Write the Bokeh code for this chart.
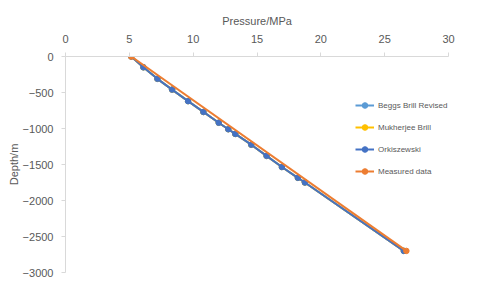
from bokeh.plotting import figure
from bokeh.models import Range1d, Legend, LegendItem, SingleIntervalTicker
from bokeh.embed import file_html
from bokeh.resources import INLINE

# Data (Pressure in MPa, Depth in m)
orki_p = [5.15, 6.1, 7.2, 8.35, 9.6, 10.8, 12.0, 12.75, 13.3, 14.55, 15.75, 16.95, 18.2, 18.75, 26.5]
orki_d = [0, -150, -310, -460, -620, -770, -920, -1010, -1075, -1225, -1380, -1535, -1685, -1750, -2700]
beggs_p = [5.15, 6.1, 7.2, 8.35, 9.6, 10.8, 12.0, 12.75, 13.3, 14.55, 15.75, 16.95, 18.2, 18.75, 26.5]
beggs_d = [0, -150, -310, -460, -620, -770, -920, -1010, -1075, -1225, -1380, -1535, -1685, -1750, -2700]
mukh_p = [5.15, 6.1, 7.2, 8.35, 9.6, 10.8, 12.0, 12.75, 13.3, 14.55, 15.75, 16.95, 18.2, 18.75, 26.5]
mukh_d = [0, -150, -310, -460, -620, -770, -920, -1010, -1075, -1225, -1380, -1535, -1685, -1750, -2700]
meas_p = [5.15, 26.7]
meas_d = [0, -2700]

series = [
    ("Beggs Brill Revised", beggs_p, beggs_d, "#5B9BD5"),
    ("Mukherjee Brill", mukh_p, mukh_d, "#FFC000"),
    ("Orkiszewski", orki_p, orki_d, "#4472C4"),
    ("Measured data", meas_p, meas_d, "#ED7D31"),
]

FONT = "Liberation Sans"
GRAY = "#595959"
AXIS = "#D9D9D9"

p = figure(frame_width=383, frame_height=216, output_backend="svg", toolbar_location=None,
           x_axis_location="above", min_border_left=65, min_border_right=24,
           min_border_top=56, min_border_bottom=13)
p.x_range = Range1d(0, 30)
p.y_range = Range1d(-3000, 0)
p.outline_line_color = None
p.xgrid.visible = False
p.ygrid.visible = False

p.xaxis.ticker = SingleIntervalTicker(interval=5)
p.yaxis.ticker = SingleIntervalTicker(interval=500)
p.xaxis.axis_label = "Pressure/MPa"
p.yaxis.axis_label = "Depth/m"
for ax in (p.xaxis, p.yaxis):
    ax.axis_line_color = AXIS
    ax.major_tick_line_color = AXIS
    ax.major_tick_out = 4
    ax.major_tick_in = 0
    ax.minor_tick_line_color = None
    ax.major_label_text_color = GRAY
    ax.major_label_text_font = FONT
    ax.major_label_text_font_size = "11px"
    ax.axis_label_text_color = GRAY
    ax.axis_label_text_font = FONT
    ax.axis_label_text_font_size = "11px"
    ax.axis_label_text_font_style = "normal"
p.xaxis.major_label_standoff = 10
p.xaxis.axis_label_standoff = 5
p.yaxis.major_label_standoff = 8
p.yaxis.axis_label_standoff = 0

items = []
for name, xs, ys, col in series:
    l = p.line(xs, ys, line_color=col, line_width=2)
    s = p.scatter(xs, ys, size=5.5, fill_color=col, line_color=col)
    items.append(LegendItem(label=name, renderers=[l, s]))

legend = Legend(items=items, location=(290, 94), padding=0, margin=0,
                border_line_color=None, background_fill_alpha=0,
                glyph_width=19, glyph_height=14, spacing=8, label_standoff=4,
                label_text_font=FONT, label_text_font_size="8px",
                label_text_color=GRAY, label_height=14)
p.add_layout(legend)

open("out.html", "w").write(file_html(p, INLINE))
